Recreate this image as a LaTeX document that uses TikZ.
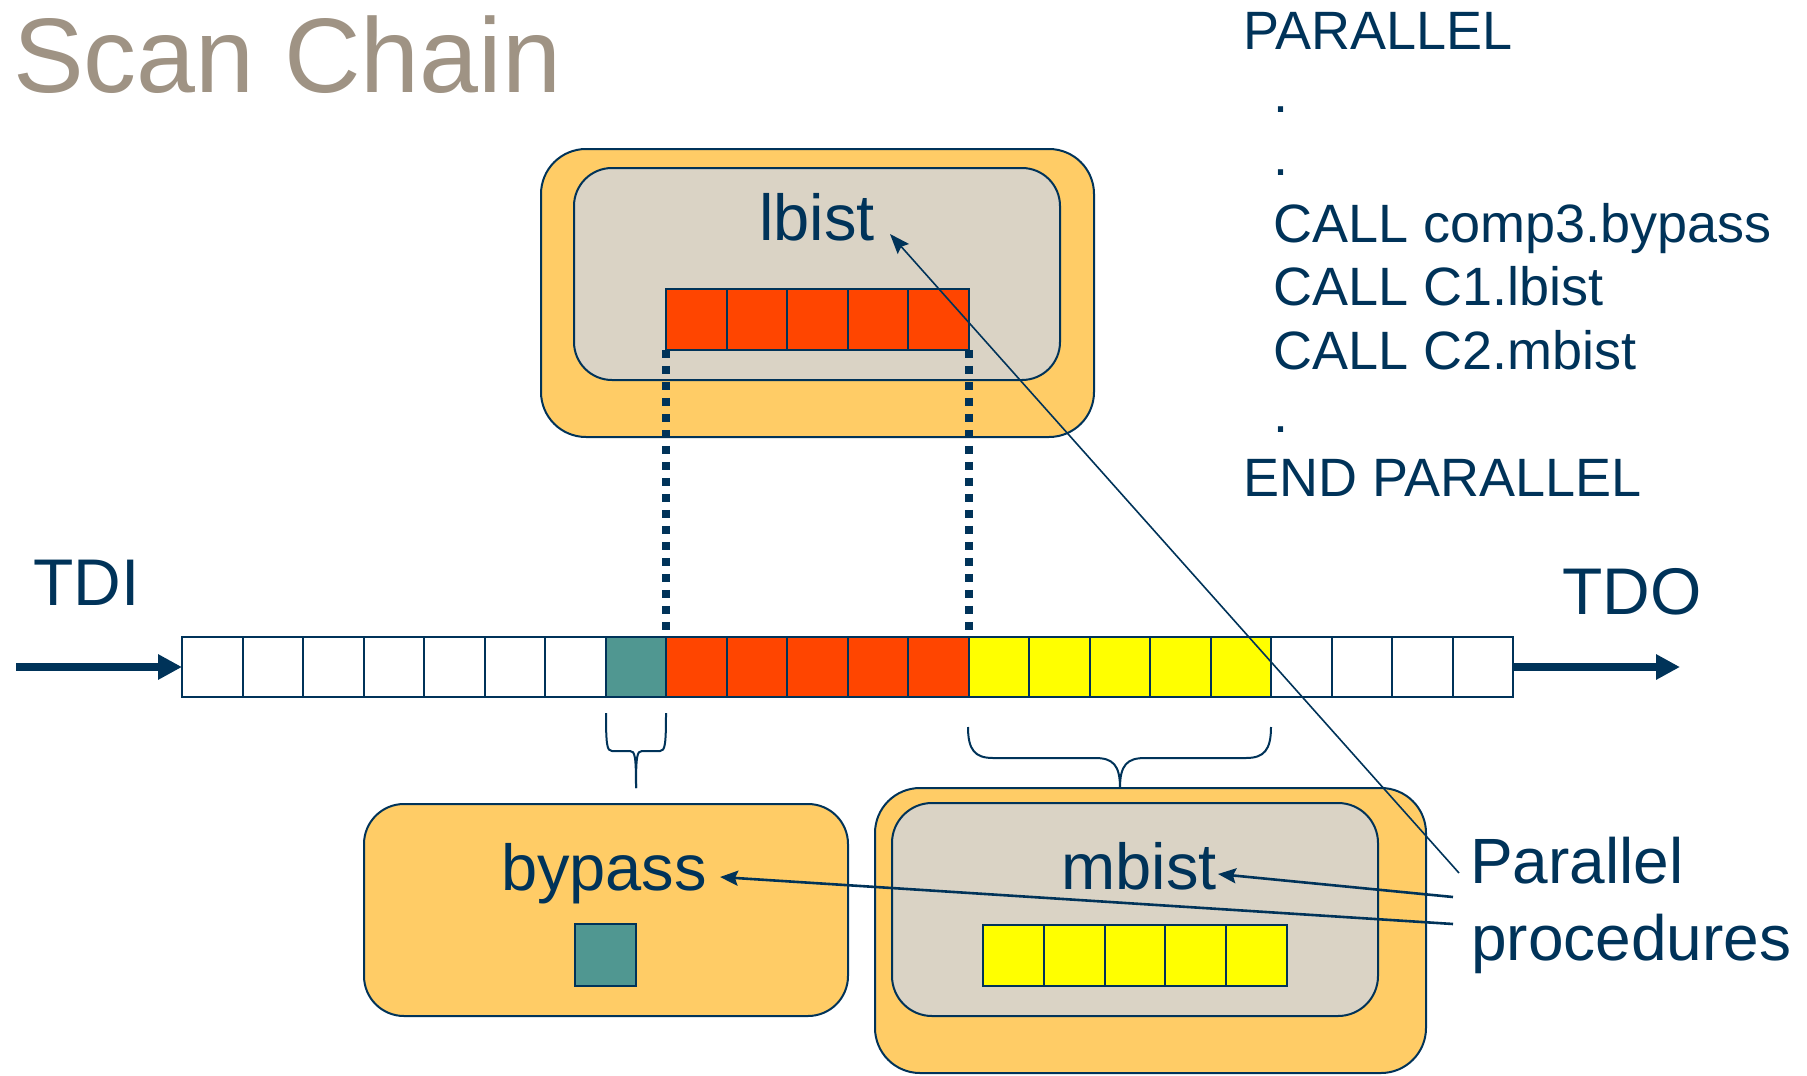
\documentclass[tikz,border=0pt]{standalone}
\usepackage{fontspec}
\setmainfont{Liberation Sans}
\usetikzlibrary{arrows.meta,calc}

\definecolor{navy}{RGB}{0,51,89}
\definecolor{titlegray}{RGB}{159,147,132}
\definecolor{boxorange}{RGB}{255,204,102}
\definecolor{boxbeige}{RGB}{218,211,197}
\definecolor{cellteal}{RGB}{80,151,145}
\definecolor{cellred}{RGB}{255,69,0}
\definecolor{cellyellow}{RGB}{255,255,0}

\tikzset{
  outerbox/.style={draw=navy, line width=2pt, fill=boxorange, rounded corners=45pt, inner sep=0pt, outer sep=0pt},
  innerbox/.style={draw=navy, line width=2pt, fill=boxbeige, rounded corners=38pt, inner sep=0pt, outer sep=0pt},
  cell/.style={draw=navy, line width=2pt, minimum width=60.5pt, minimum height=60.5pt, inner sep=0pt, outer sep=0pt},
  blocktext/.style={text=navy, font=\fontsize{65}{78}\selectfont, inner sep=0pt, anchor=base},
  codeline/.style={text=navy, font=\fontsize{54}{64}\selectfont, inner sep=0pt, anchor=base west},
  porttext/.style={text=navy, font=\fontsize{66}{79}\selectfont, inner sep=0pt, anchor=base west},
  proctext/.style={text=navy, font=\fontsize{64}{77}\selectfont, inner sep=0pt, anchor=base west},
  portarrow/.style={draw=navy, line width=7.5pt, -{Triangle[length=24pt,width=24pt]}},
  dotline/.style={draw=navy, line width=8pt, dash pattern=on 8pt off 8pt},
  bracepath/.style={draw=navy, line width=2pt},
  leader/.style={draw=navy, line width=2.6pt, -{Stealth[length=18pt,width=15pt,inset=3pt]}},
  thinleader/.style={draw=navy, line width=1.6pt, -{Stealth[length=20pt,width=15pt,inset=3pt]}},
}

\begin{document}
\begin{tikzpicture}[x=1pt, y=-1pt]
\useasboundingbox (0,0) rectangle (1807,1076);

% title
\node[anchor=base west, text=titlegray, font=\fontsize{106}{120}\selectfont, inner sep=0pt] (title) at (13,92) {Scan Chain};

% procedure listing
\node[codeline] (p1) at (1243,49)  {PARALLEL};
\node[codeline] (p2) at (1273,112) {.};
\node[codeline] (p3) at (1273,175) {.};
\node[codeline] (p4) at (1273,242) {CALL comp3.bypass};
\node[codeline] (p5) at (1273,305) {CALL C1.lbist};
\node[codeline] (p6) at (1273,369) {CALL C2.mbist};
\node[codeline] (p7) at (1273,432) {.};
\node[codeline] (p8) at (1243,496) {END PARALLEL};

% lbist component
\node[outerbox, minimum width=553pt, minimum height=288pt] (lbistOuter) at (817.5,293) {};
\node[innerbox, minimum width=486pt, minimum height=212pt] (lbistInner) at (817,274) {};
\node[blocktext] (lbist) at (817,240) {lbist};
\foreach \i in {0,...,4}
  \node[cell, fill=cellred] (l\i) at ({696.25+60.5*\i},319.5) {};

% bypass component
\node[outerbox, rounded corners=40pt, minimum width=484pt, minimum height=212pt] (bypassBox) at (606,910) {};
\node[blocktext] (bypass) at (604,890) {bypass};
\node[cell, fill=cellteal, minimum width=61pt, minimum height=62pt] (b0) at (605.5,955) {};

% mbist component
\node[outerbox, minimum width=551pt, minimum height=285pt] (mbistOuter) at (1150.5,930.5) {};
\node[innerbox, rounded corners=40pt, minimum width=486pt, minimum height=213pt] (mbistInner) at (1135,909.5) {};
\node[blocktext] (mbist) at (1139,889) {mbist};
\foreach \i in {0,...,4}
  \node[cell, fill=cellyellow, minimum width=60.8pt] (m\i) at ({1013.4+60.8*\i},955.5) {};

% scan chain
\foreach \i in {0,...,6}
  \node[cell, fill=white, minimum height=60pt] (c\i) at ({212.25+60.5*\i},667) {};
\node[cell, fill=cellteal, minimum height=60pt] (c7) at ({212.25+60.5*7},667) {};
\foreach \i in {8,...,12}
  \node[cell, fill=cellred, minimum height=60pt] (c\i) at ({212.25+60.5*\i},667) {};
\foreach \i in {13,...,17}
  \node[cell, fill=cellyellow, minimum height=60pt] (c\i) at ({212.25+60.5*\i},667) {};
\foreach \i in {18,...,21}
  \node[cell, fill=white, minimum height=60pt] (c\i) at ({212.25+60.5*\i},667) {};

% ports
\node[porttext] (tdi) at (33,605) {TDI};
\node[porttext] (tdo) at (1562,614) {TDO};
\coordinate (tdiStart) at (16,667);
\coordinate (tdoEnd) at (1680,667);
\draw[portarrow] (tdiStart) -- (c0.west);
\draw[portarrow] (c21.east) -- (tdoEnd);

% lbist register mapped into the chain
\draw[dotline] (l0.south west) -- (c8.north west);
\draw[dotline] (l4.south east) -- (c12.north east);

% brace under the bypass bit
\draw[bracepath] (606,713) .. controls (606,745) and (607,751) .. (612,751) -- (630,751)
  .. controls (635,751) and (636,756) .. (636,788);
\draw[bracepath] (666,713) .. controls (666,745) and (665,751) .. (660,751) -- (642,751)
  .. controls (637,751) and (636,756) .. (636,788);

% brace under the mbist bits
\draw[bracepath] (968,727) .. controls (968,750) and (975,758) .. (993,758) -- (1095,758)
  .. controls (1113,758) and (1120,765) .. (1120,788);
\draw[bracepath] (1271,727) .. controls (1271,750) and (1264,758) .. (1246,758) -- (1145,758)
  .. controls (1127,758) and (1120,765) .. (1120,788);

% callout
\node[proctext] (par1) at (1470,883) {Parallel};
\node[proctext] (par2) at (1471,960) {procedures};
\coordinate (s1) at (1459,873);
\coordinate (s2) at (1453,897);
\coordinate (s3) at (1453,924);
\coordinate (t1) at (890,234);
\coordinate (t2) at (1218,874);
\coordinate (t3) at (720,877);
\draw[thinleader] (s1) -- (t1);
\draw[leader] (s2) -- (t2);
\draw[leader] (s3) -- (t3);
\end{tikzpicture}
\end{document}
